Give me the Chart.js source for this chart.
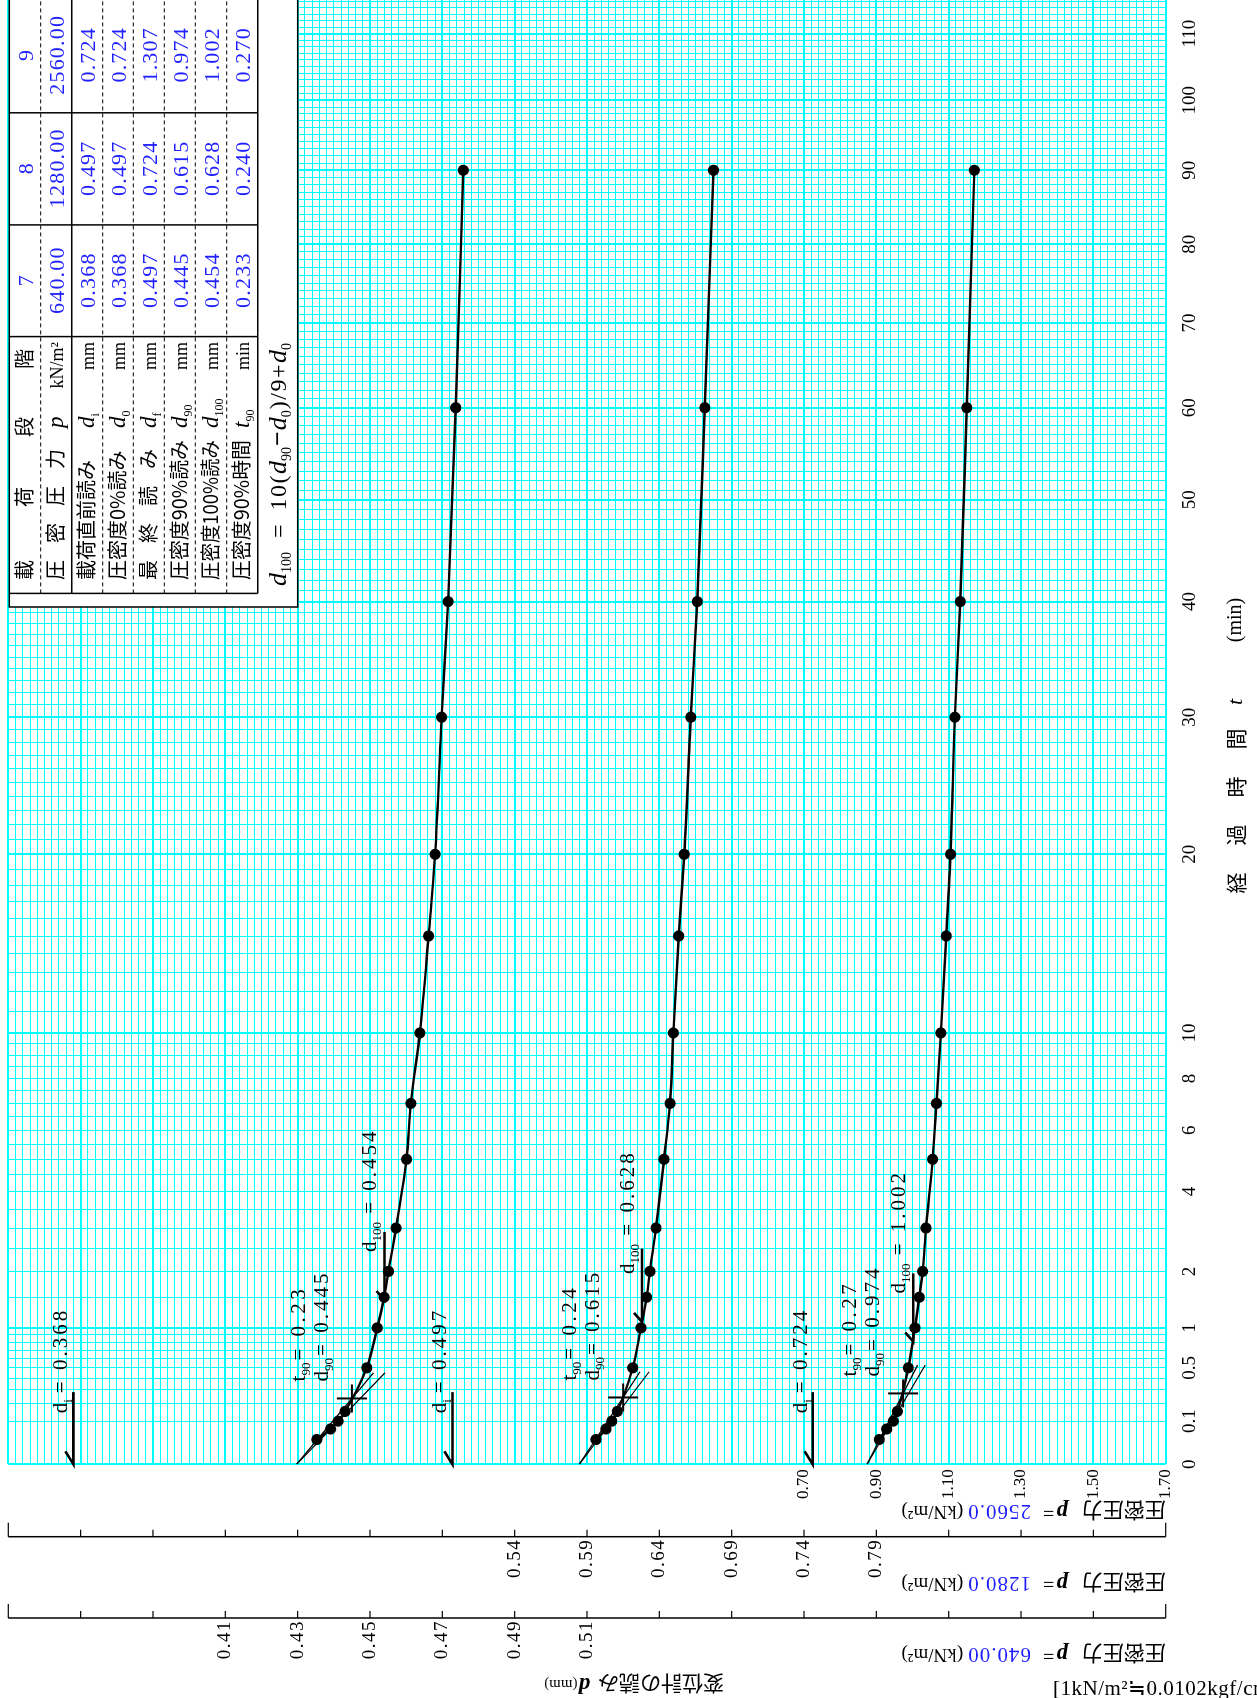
<!DOCTYPE html>
<html>
<head>
<meta charset="utf-8">
<script src="https://cdn.jsdelivr.net/npm/chart.js@4.4.0/dist/chart.umd.min.js"></script>
<style>
html, body { margin: 0; padding: 0; background: #fff; overflow: hidden; }
#page { position: absolute; left: 0; top: 0; width: 1698px; height: 1257px;
  transform-origin: 0 0; transform: translate(0, 1698px) rotate(-90deg); background: #fff; }
canvas { display: block; }
</style>
</head>
<body>
<div id="page"><canvas id="chart" width="1698" height="1257"></canvas></div>
<script>
// load stages 7, 8, 9 (consolidation, sqrt t method)
var stages = ['7', '8', '9'];
var pressures = ['640.00', '1280.00', '2560.00'];
var pressureTitles = ['640.00', '1280.0', '2560.0'];

// elapsed time of the readings (min)
var times = [0.033, 0.067, 0.1, 0.15, 0.5, 1, 1.5, 2, 3, 5, 7, 10, 15, 20, 30, 40, 60, 90];
// dial gauge readings d (mm)
var dStage7 = [0.4353, 0.4391, 0.4412, 0.4431, 0.4491, 0.4520, 0.4539, 0.4551, 0.4572, 0.4601, 0.4613,
  0.4638, 0.4662, 0.4680, 0.4698, 0.4716, 0.4737, 0.4758];
var dStage8 = [0.5962, 0.6031, 0.6071, 0.6109, 0.6216, 0.6273, 0.6312, 0.6335, 0.6377, 0.6432, 0.6474,
  0.6497, 0.6534, 0.6572, 0.6617, 0.6662, 0.6714, 0.6774];
var dStage9 = [0.908, 0.9286, 0.9468, 0.9579, 0.9882, 1.0067, 1.0186, 1.0280, 1.0372, 1.0557, 1.0662,
  1.0784, 1.0933, 1.1052, 1.1171, 1.1320, 1.150, 1.171];

// table values
var di = [0.368, 0.497, 0.724];
var d0 = [0.368, 0.497, 0.724];
var df = [0.497, 0.724, 1.307];
var d90 = [0.445, 0.615, 0.974];
var d100 = [0.454, 0.628, 1.002];
var t90 = [0.233, 0.240, 0.270];

// construction lines
var lineOrigin = [0.4297, 0.5847, 0.874];   // d at t = 0 of the straight lines
var lineEndT = [0.45, 0.46, 0.53];          // min
var d100MarkT = [[1.45, 2.9], [1.09, 2.5], [0.81, 1.96]];
var diMarkT = 0.28;

// tick labels
var timeTicks = [0, 0.1, 0.5, 1, 2, 4, 6, 8, 10, 20, 30, 40, 50, 60, 70, 80, 90, 100, 110];
var axis640Ticks = [0.41, 0.43, 0.45, 0.47, 0.49, 0.51];
var axis1280Ticks = [0.54, 0.59, 0.64, 0.69, 0.74, 0.79];
var axis2560Ticks = [0.70, 0.90, 1.10, 1.30, 1.50, 1.70];

var SER = '"Liberation Serif", "Noto Sans CJK JP", serif';
var JP = '"Noto Sans CJK JP", "Noto Sans CJK SC", sans-serif';
var BLUE = '#1f1fff';
var CYAN = '#00ffff';

// lines of the sqrt(t) graph paper
var gridT = [];
for (var i = 0; i <= 10; i++) gridT.push(i / 10);
for (var h = 3; h <= 20; h++) gridT.push(h / 2);
for (var m = 11; m <= 115; m++) gridT.push(m);
function isMajorT(t) { return t === 0 || t === 1 || (t >= 10 && t % 10 === 0); }
function hasTick(list, v) { return list.some(function (a) { return Math.abs(a - v) < 1e-9; }); }

// draw a row of text pieces, returns width
function runs(ctx, x, y, parts) {
  var cx = x;
  parts.forEach(function (p) {
    ctx.font = p.f;
    ctx.fillStyle = p.c || '#000';
    ctx.letterSpacing = (p.ls || 0) + 'px';
    if (p.t) ctx.fillText(p.t, cx, y + (p.dy || 0));
    cx += (p.t ? ctx.measureText(p.t).width : 0) + (p.gap || 0);
    ctx.letterSpacing = '0px';
  });
  return cx - x;
}
function vText(ctx, u, v, rot, parts) {
  ctx.save();
  ctx.translate(u, v);
  ctx.rotate(rot);
  ctx.textBaseline = 'middle';
  runs(ctx, 0, 0, parts);
  ctx.restore();
}
function seg(ctx, pts, w) {
  ctx.lineWidth = w;
  ctx.beginPath();
  ctx.moveTo(pts[0][0], pts[0][1]);
  for (var k = 1; k < pts.length; k++) ctx.lineTo(pts[k][0], pts[k][1]);
  ctx.stroke();
}
function sideAxis(ctx, a, s, u, step, labels) {
  ctx.strokeStyle = '#000';
  seg(ctx, [[u, a.top], [u, a.bottom]], 1.5);
  var n = Math.round((s.max - s.min) / step);
  for (var k = 0; k <= n; k++) {
    var v = s.getPixelForValue(s.min + k * step);
    seg(ctx, [[u, v], [u + ((k === 0 || k === n) ? 14 : 7), v]], 1.2);
  }
  ctx.font = '19px ' + SER;
  ctx.fillStyle = '#000';
  ctx.textAlign = 'right';
  ctx.textBaseline = 'middle';
  ctx.letterSpacing = '1.5px';
  labels.forEach(function (d) { ctx.fillText(d.toFixed(2), u - 2, s.getPixelForValue(d)); });
  ctx.letterSpacing = '0px';
  ctx.textAlign = 'left';
  ctx.textBaseline = 'alphabetic';
}

function sub(t, gap) { return {t: t, f: '13px ' + SER, dy: 5, gap: gap || 0}; }
function ann(t, ls, gap) { return {t: t, f: '21px ' + SER, ls: ls || 0, gap: gap || 0}; }

var overlay = {
  id: 'overlay',
  afterDraw: function (chart) {
    var ctx = chart.ctx, a = chart.chartArea, xs = chart.scales.x;
    var ys = [chart.scales.y640, chart.scales.y1280, chart.scales.y2560];
    ctx.save();
    ctx.strokeStyle = '#000';
    ctx.textAlign = 'left';
    ctx.textBaseline = 'alphabetic';

    // load axes of stages 7 and 8
    sideAxis(ctx, a, ys[1], 161.3, 0.05, axis1280Ticks);
    sideAxis(ctx, a, ys[0], 80, 0.02, axis640Ticks);

    // axis titles
    var titleU = [44, 115.5, 187];
    for (var s = 0; s < 3; s++) {
      vText(ctx, titleU[s], a.bottom, -Math.PI / 2, [
        {t: '圧密圧力', f: '21px ' + JP, gap: 14},
        {t: 'p', f: 'italic bold 23px ' + SER, gap: 2},
        {t: '=', f: '20px ' + SER, gap: 12},
        {t: pressureTitles[s], f: '21px ' + SER, c: BLUE, gap: 4, ls: 1},
        {t: '(kN/m²)', f: '19px ' + SER}
      ]);
    }
    vText(ctx, 14, 724, -Math.PI / 2, [
      {t: '変位計の読み', f: '21px ' + JP, gap: 8},
      {t: 'd', f: 'italic bold 23px ' + SER, gap: 1},
      {t: '(mm)', f: '15px ' + SER}
    ]);
    vText(ctx, 9, 1053, Math.PI / 2, [{t: '[1kN/m²≒0.0102kgf/cm²]', f: '21px ' + SER, ls: 0.5}]);

    // x title
    ctx.textAlign = 'center';
    ctx.textBaseline = 'middle';
    ctx.fillStyle = '#000';
    ctx.font = '21px ' + JP;
    ['経', '過', '時', '間'].forEach(function (c, k) { ctx.fillText(c, 815 + 48 * k, 1236); });
    ctx.font = 'italic 22px ' + SER;
    ctx.fillText('t', 996, 1236);
    ctx.font = '20px ' + SER;
    ctx.fillText('(min)', 1078, 1236);
    ctx.textAlign = 'left';
    ctx.textBaseline = 'alphabetic';

    // construction marks on each curve
    var u0 = xs.getPixelForValue(0);
    for (s = 0; s < 3; s++) {
      var y = ys[s];
      ctx.strokeStyle = '#000';
      // d_i
      var vi = y.getPixelForValue(di[s]);
      seg(ctx, [[u0 + 13, vi - 8], [u0, vi], [xs.getPixelForValue(Math.sqrt(diMarkT)), vi]], 2.6);
      runs(ctx, u0 + 51, vi - 6, [ann('d'), sub('i', 6), ann('= ' + di[s].toFixed(3), 3)]);
      // t90 cross
      var u9 = xs.getPixelForValue(Math.sqrt(t90[s])), v9 = y.getPixelForValue(d90[s]);
      seg(ctx, [[u9 - 14, v9], [u9 + 14, v9]], 2);
      seg(ctx, [[u9, v9 - 15], [u9, v9 + 15]], 2);
      runs(ctx, u9 + 17, v9 - 47, [ann('t'), sub('90', 2), ann('= ' + t90[s].toFixed(2), 3.5)]);
      runs(ctx, u9 + 17, v9 - 24, [ann('d'), sub('90', 2), ann('= ' + d90[s].toFixed(3), 3)]);
      // d100
      var v1 = y.getPixelForValue(d100[s]);
      var ua = xs.getPixelForValue(Math.sqrt(d100MarkT[s][0])), ub = xs.getPixelForValue(Math.sqrt(d100MarkT[s][1]));
      seg(ctx, [[ua + 9, v1 - 8], [ua, v1], [ub, v1]], 2.6);
      runs(ctx, ua + 48, v1 - 8, [ann('d'), sub('100'), ann(' = ' + d100[s].toFixed(3), 3)]);
    }

    // result table
    var tl = 1091, gl = 1104.6, tt = 9.3, tr = 1700, tb = 297.7;
    var rows = [9.3, 40.7, 71.7, 102.7, 133.3, 164.3, 195.3, 226.7, 257.7];
    var cols = [1104.6, 1361.4, 1473.1, 1585.2, 1700];
    ctx.fillStyle = '#fff';
    ctx.fillRect(tl, tt, tr - tl, tb - tt);
    ctx.strokeStyle = '#000';
    ctx.lineWidth = 1.5;
    ctx.strokeRect(tl, tt, tr - tl, tb - tt);
    for (var r = 1; r < rows.length; r++) {
      var solid = r === 2 || r === rows.length - 1;
      ctx.setLineDash(solid ? [] : [4, 3]);
      seg(ctx, [[gl, rows[r]], [tr, rows[r]]], solid ? 1.5 : 1);
    }
    ctx.setLineDash([]);
    cols.slice(0, 4).forEach(function (c) { seg(ctx, [[c, tt], [c, rows[8]]], 1.5); });

    var jp = '20px ' + JP;
    function base(r) { return (rows[r] + rows[r + 1]) / 2 + 7; }
    function spread(r, chars, pos) {
      ctx.font = jp; ctx.fillStyle = '#000';
      chars.forEach(function (c, k) { ctx.fillText(c, pos[k], base(r)); });
    }
    spread(0, ['載', '荷', '段', '階'], [1118, 1191, 1261, 1329]);
    spread(1, ['圧', '密', '圧', '力'], [1118, 1155, 1192, 1229]);
    spread(4, ['最', '終', '読', 'み'], [1118, 1155, 1192, 1229]);
    var labels = [null, null, '載荷直前読み', '圧密度0%読み', null, '圧密度90%読み', '圧密度100%読み', '圧密度90%時間'];
    var syms = [null, ['p', ''], ['d', 'i'], ['d', '0'], ['d', 'f'], ['d', '90'], ['d', '100'], ['t', '90']];
    var units = [null, 'kN/m²', 'mm', 'mm', 'mm', 'mm', 'mm', 'min'];
    for (r = 1; r < 8; r++) {
      if (labels[r]) { ctx.font = jp; ctx.fillStyle = '#000'; ctx.fillText(labels[r], 1118, base(r), 140); }
      runs(ctx, 1270, base(r), [{t: syms[r][0], f: 'italic 23px ' + SER}, {t: syms[r][1], f: '12px ' + SER, dy: 5}]);
      ctx.textAlign = 'right';
      ctx.font = '18px ' + SER;
      ctx.fillStyle = '#000';
      ctx.fillText(units[r], 1356, base(r));
      ctx.textAlign = 'left';
    }
    var colVals = [stages, pressures,
      di.map(function (v) { return v.toFixed(3); }), d0.map(function (v) { return v.toFixed(3); }),
      df.map(function (v) { return v.toFixed(3); }), d90.map(function (v) { return v.toFixed(3); }),
      d100.map(function (v) { return v.toFixed(3); }), t90.map(function (v) { return v.toFixed(3); })];
    ctx.textAlign = 'center';
    ctx.font = '22px ' + SER;
    ctx.fillStyle = BLUE;
    ctx.letterSpacing = '1.2px';
    for (r = 0; r < 8; r++) {
      for (var c = 0; c < 3; c++) ctx.fillText(colVals[r][c], (cols[c + 1] + cols[c + 2]) / 2 + 0.6, base(r) + 1);
    }
    ctx.letterSpacing = '0px';
    ctx.textAlign = 'left';
    var fb = (rows[8] + tb) / 2 + 8;
    var it = 'italic 26px ' + SER, rm = '24px ' + SER, sb = '14px ' + SER;
    runs(ctx, 1112, fb, [
      {t: 'd', f: it}, {t: '100', f: sb, dy: 5, gap: 14}, {t: '=', f: rm, gap: 14}, {t: '10(', f: rm, ls: 1.5},
      {t: 'd', f: it}, {t: '90', f: sb, dy: 5, gap: 1}, {t: '−', f: 'bold 26px ' + SER, gap: 1}, {t: 'd', f: it},
      {t: '0', f: sb, dy: 5, gap: 1}, {t: ')/9+', f: rm, ls: 1.5}, {t: 'd', f: it}, {t: '0', f: sb, dy: 5}
    ]);
    ctx.restore();
  }
};

var curves = [dStage7, dStage8, dStage9];
var axisIds = ['y640', 'y1280', 'y2560'];
var datasets = [];
curves.forEach(function (ds, s) {
  datasets.push({
    data: times.map(function (t, k) { return {x: Math.sqrt(t), y: ds[k]}; }),
    yAxisID: axisIds[s], borderColor: '#000', backgroundColor: '#000', borderWidth: 2.4,
    pointRadius: 4.4, pointHoverRadius: 4.4, cubicInterpolationMode: 'monotone'
  });
  var rt = Math.sqrt(t90[s]), k2 = (d90[s] - lineOrigin[s]) / rt, re = Math.sqrt(lineEndT[s]);
  [1.15 * k2, k2].forEach(function (k) {
    datasets.push({
      data: [{x: 0, y: lineOrigin[s]}, {x: re, y: lineOrigin[s] + k * re}],
      yAxisID: axisIds[s], borderColor: '#000', borderWidth: 1.2, pointRadius: 0
    });
  });
});

new Chart(document.getElementById('chart'), {
  type: 'line',
  data: {datasets: datasets},
  options: {
    responsive: false,
    animation: false,
    devicePixelRatio: 1,
    layout: {autoPadding: false, padding: {top: 8.3, left: 0, right: 0, bottom: 0}},
    plugins: {legend: {display: false}, tooltip: {enabled: false}},
    scales: {
      x: {
        type: 'linear', min: 0, max: 10.735,
        afterBuildTicks: function (sc) { sc.ticks = gridT.map(function (t) { return {value: Math.sqrt(t)}; }); },
        afterFit: function (sc) { sc.height = 91.3; sc.paddingLeft = 0; sc.paddingRight = 0; },
        grid: {color: CYAN, drawTicks: false, lineWidth: function (c) { return isMajorT(gridT[c.index]) ? 2 : 1; }},
        border: {display: false},
        ticks: {
          autoSkip: false, maxRotation: 0, minRotation: 0, padding: 13, color: '#000',
          font: {family: 'Liberation Serif', size: 19},
          callback: function (v, k) { var t = gridT[k]; return timeTicks.indexOf(t) >= 0 ? String(t) : ''; }
        }
      },
      y2560: {
        type: 'linear', position: 'left', reverse: true, min: -1.5, max: 1.7,
        afterBuildTicks: function (sc) {
          var a = [];
          for (var k = 0; k <= 160; k++) a.push({value: (-150 + 2 * k) / 100});
          sc.ticks = a;
        },
        afterFit: function (sc) { sc.width = 233.7; sc.paddingTop = 0; sc.paddingBottom = 0; },
        grid: {color: CYAN, drawTicks: false, lineWidth: function (c) { return c.index % 10 === 0 ? 2 : 1; }},
        border: {display: false},
        ticks: {
          autoSkip: false, padding: 5, color: '#000', font: {family: 'Liberation Serif', size: 17},
          callback: function (v) { return hasTick(axis2560Ticks, v) ? v.toFixed(2) : ''; }
        }
      },
      y1280: {type: 'linear', display: false, reverse: true, min: 0.19, max: 0.99},
      y640: {type: 'linear', display: false, reverse: true, min: 0.35, max: 0.67}
    }
  },
  plugins: [overlay]
});
</script>
</body>
</html>
